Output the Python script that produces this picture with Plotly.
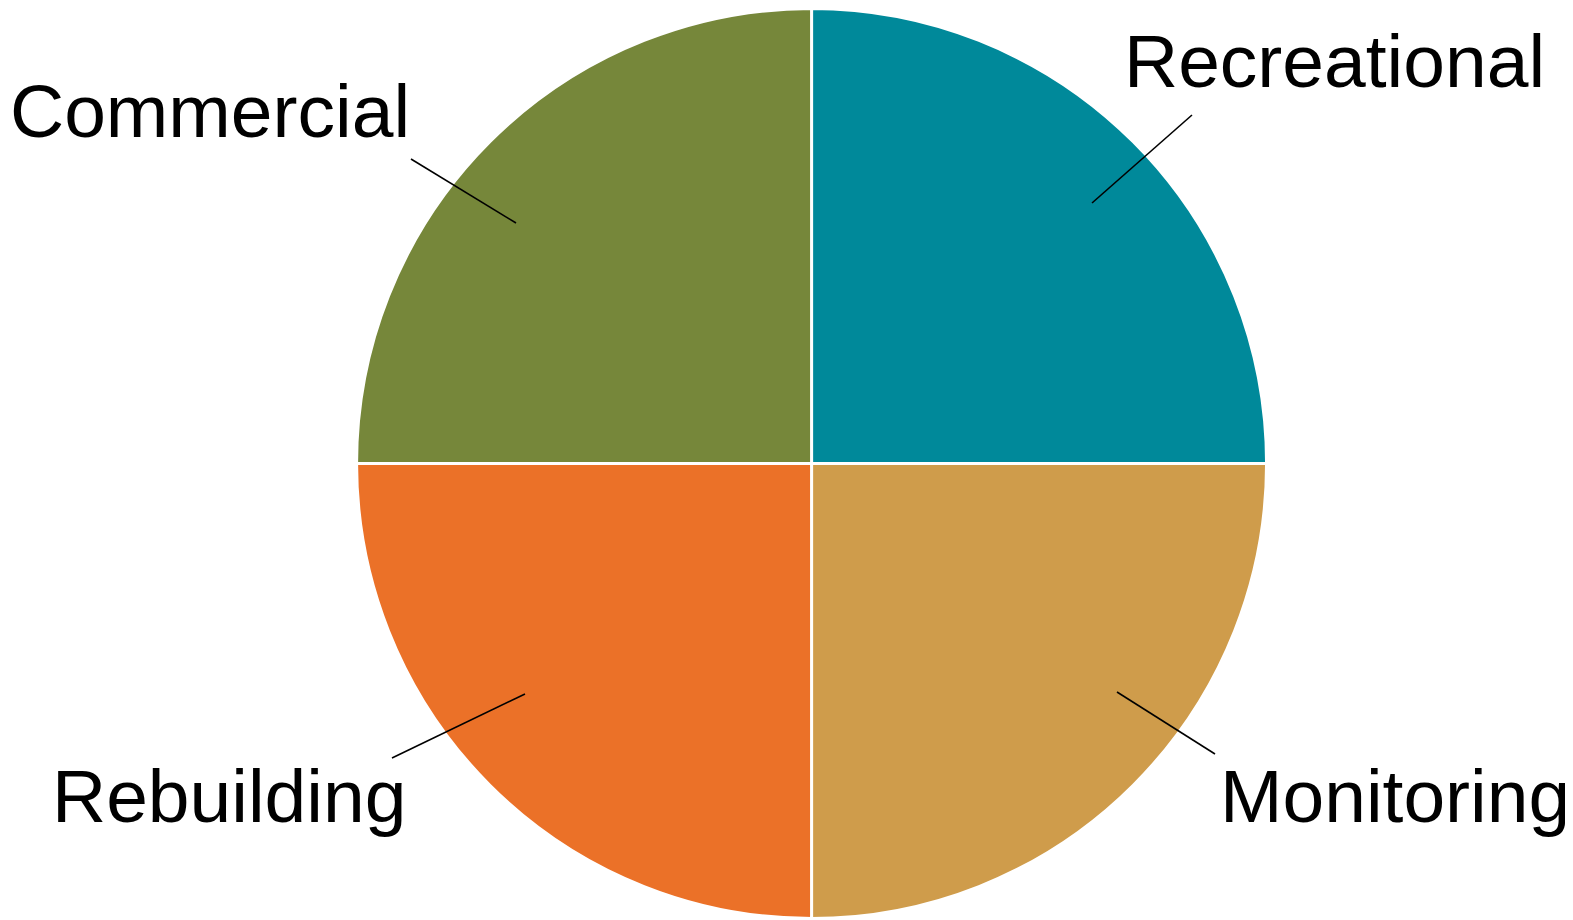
import plotly.graph_objects as go

# ---- data ----
categories = ["Recreational", "Monitoring", "Rebuilding", "Commercial"]
values = [25, 25, 25, 25]
colors = ["#00899A", "#CF9C4B", "#EB7128", "#76873A"]

# ---- layout helpers (screen-pixel positions of the outside labels / leaders) ----
W, H = 1573, 920
OFF = 8  # page body margin offset of the plot div
label_pos = {  # (x_px, y_px, xanchor)
    "Recreational": (1122, 61, "left"),
    "Monitoring": (1218, 796, "left"),
    "Rebuilding": (50, 796, "left"),
    "Commercial": (8, 111, "left"),
}
leaders = {  # (x0, y0, x1, y1) pixel
    "Recreational": (1192, 115, 1092, 203),
    "Monitoring": (1117, 692, 1215, 754),
    "Rebuilding": (392, 758, 525, 694),
    "Commercial": (411, 159, 516, 223),
}

def px(x):
    return (x - OFF) / W

def py(y):
    return 1 - (y - OFF) / H

fig = go.Figure(go.Pie(
    labels=categories,
    values=values,
    sort=False,
    direction="clockwise",
    rotation=0,
    marker=dict(colors=colors, line=dict(color="white", width=3)),
    textinfo="none",
    hoverinfo="label+percent",
    domain=dict(x=[0.2216, 0.8001], y=[0.0103, 0.9995]),
    showlegend=False,
))

annotations = []
shapes = []
for cat in categories:
    x, y, anc = label_pos[cat]
    annotations.append(dict(
        x=px(x), y=py(y), xref="paper", yref="paper",
        text=cat, showarrow=False, xanchor=anc, yanchor="middle",
        font=dict(family="Liberation Sans, Arial, sans-serif", size=75, color="black"),
    ))
    x0, y0, x1, y1 = leaders[cat]
    shapes.append(dict(
        type="line", xref="paper", yref="paper",
        x0=px(x0), y0=py(y0), x1=px(x1), y1=py(y1),
        line=dict(color="black", width=1.6),
    ))

fig.update_layout(
    width=W, height=H,
    margin=dict(l=0, r=0, t=0, b=0),
    paper_bgcolor="white",
    plot_bgcolor="white",
    annotations=annotations,
    shapes=shapes,
)

fig.write_html("out.html")
